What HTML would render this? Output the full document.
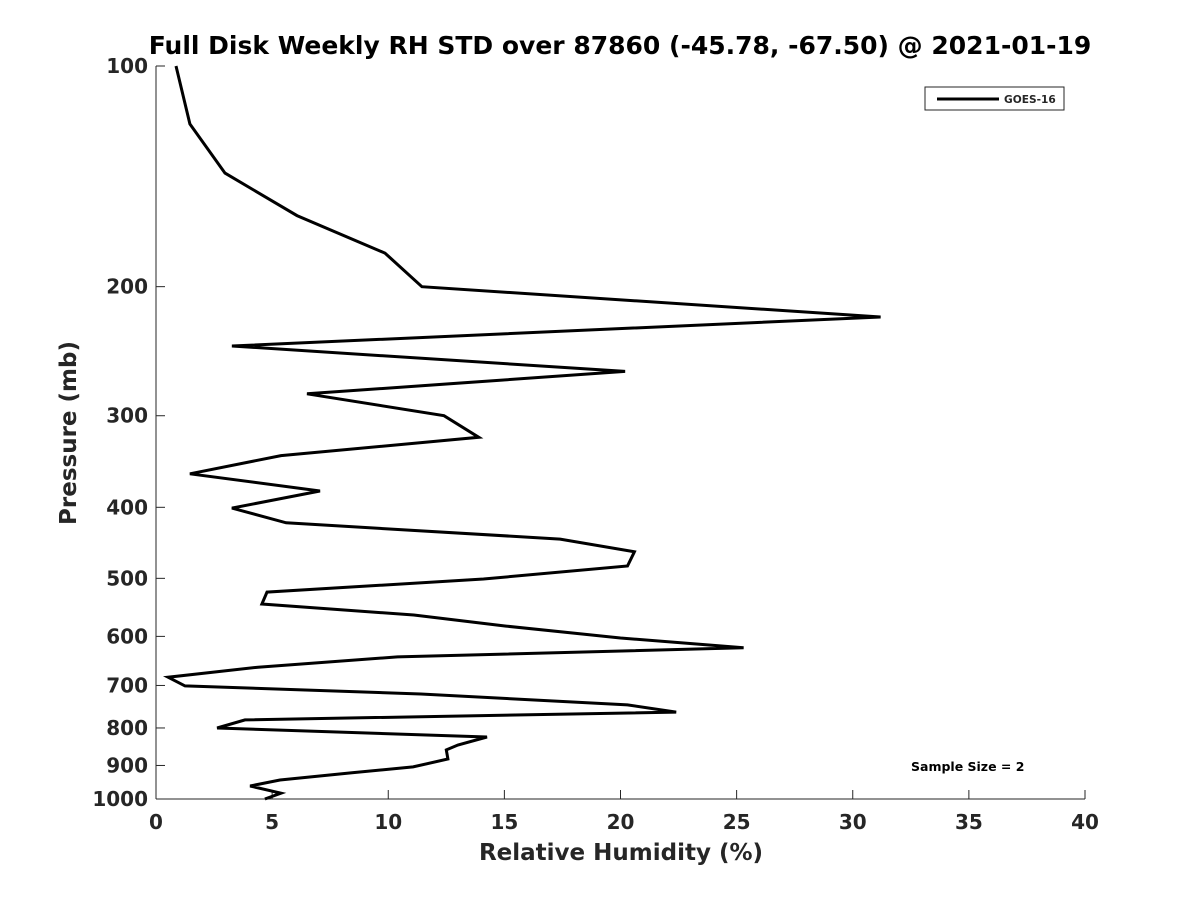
<!DOCTYPE html>
<html><head><meta charset="utf-8"><style>
html,body{margin:0;padding:0;background:#fff;}
svg text{font-family:"DejaVu Sans","Liberation Sans",sans-serif;font-weight:bold;fill:#262626;}
</style></head><body>
<svg id="chart" width="1200" height="900" viewBox="0 0 1200 900" xmlns="http://www.w3.org/2000/svg">
<rect width="1200" height="900" fill="#fff"/>
<text x="620" y="54" font-size="25" text-anchor="middle" style="fill:#000">Full Disk Weekly RH STD over 87860 (-45.78, -67.50) @ 2021-01-19</text>
<g id="axes"></g>
<g id="series"></g>
<g>
<rect x="925" y="87" width="139" height="23" fill="#fff" stroke="#262626" stroke-width="1"/>
<line x1="937" y1="99" x2="999" y2="99" stroke="#000" stroke-width="3"/>
<text x="1004" y="103" font-size="10.6">GOES-16</text>
</g>
<text x="911" y="771" font-size="12.5" style="fill:#000">Sample Size = 2</text>
<text x="621" y="860" font-size="23" text-anchor="middle">Relative Humidity (%)</text>
<text transform="translate(76,433) rotate(-90)" font-size="23" text-anchor="middle">Pressure (mb)</text>
</svg>
<script>
const xTicks=[0,5,10,15,20,25,30,35,40];
const yTicks=[100,200,300,400,500,600,700,800,900,1000];
const pressures=[100,120,140,160,180,200,220,241,261,280,300,321,340,360,380,401,420,442,460,481,501,522,542,561,581,603,622,640,661,682,701,719,744,761,780,800,823,844,857,882,904,921,942,960,982,1000];
const rhStd=[0.86,1.46,2.97,6.07,9.86,11.45,31.2,3.27,20.2,6.5,12.4,13.9,5.38,1.46,7.06,3.27,5.6,17.4,20.6,20.3,14.1,4.78,4.56,11.1,15.07,20.0,25.3,10.4,4.39,0.52,1.25,11.4,20.3,22.4,3.83,2.63,14.25,13.0,12.5,12.57,11.07,8.44,5.34,4.05,5.38,4.69];
const L=156,R=1085,T=66,B=799;
const xs=v=>L+(v-0)/(40-0)*(R-L);
const ys=p=>T+(Math.log10(p)-2)/(3-2)*(B-T);
const NS="http://www.w3.org/2000/svg";
const axes=document.getElementById('axes');
function mk(tag,attrs,parent){const e=document.createElementNS(NS,tag);for(const k in attrs)e.setAttribute(k,attrs[k]);parent.appendChild(e);return e;}
const xl=mk('line',{x1:L,y1:B,x2:R,y2:B,stroke:'#262626','stroke-width':1},axes);


const yl=mk('line',{x1:L,y1:T,x2:L,y2:B,stroke:'#262626','stroke-width':1},axes);


xTicks.forEach(v=>{
  const x=xs(v);
  mk('line',{x1:x,y1:B,x2:x,y2:B-9,stroke:'#262626','stroke-width':1},axes);
  const t=mk('text',{x:x,y:B+30,'font-size':20,'text-anchor':'middle'},axes);
  t.textContent=v;
  
  
});
yTicks.forEach(p=>{
  const y=ys(p);
  mk('line',{x1:L,y1:y,x2:L+9,y2:y,stroke:'#262626','stroke-width':1},axes);
  const t=mk('text',{x:L-8,y:y+7,'font-size':20,'text-anchor':'end'},axes);
  t.textContent=p;
  
  
});
const pts=pressures.map((p,i)=>xs(rhStd[i]).toFixed(1)+','+ys(p).toFixed(1)).join(' ');
const line=mk('polyline',{points:pts,fill:'none',stroke:'#000','stroke-width':3,'stroke-linejoin':'miter'},document.getElementById('series'));


</script>
</body></html>
